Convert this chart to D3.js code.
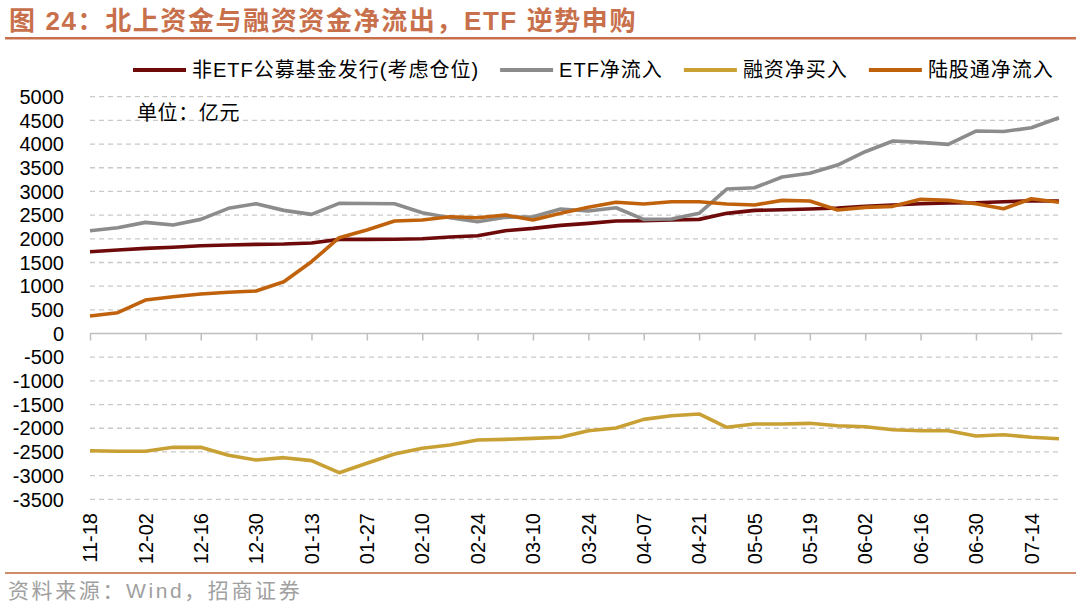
<!DOCTYPE html>
<html>
<head>
<meta charset="utf-8">
<script src="https://cdn.jsdelivr.net/npm/d3@7"></script>
<style>
  body { margin: 0; background: #fff; }
  svg { display: block; }
  text { font-family: Arial, "Liberation Sans", "Noto Sans CJK SC", sans-serif; }
</style>
</head>
<body>
<svg id="chart" width="1080" height="611"></svg>
<script>
// weekly dates
const dates = ['11-18', '11-25', '12-02', '12-09', '12-16', '12-23', '12-30', '01-06', '01-13', '01-20',
  '01-27', '02-03', '02-10', '02-17', '02-24', '03-03', '03-10', '03-17', '03-24', '03-31',
  '04-07', '04-14', '04-21', '04-28', '05-05', '05-12', '05-19', '05-26', '06-02', '06-09',
  '06-16', '06-23', '06-30', '07-07', '07-14', '07-21']

// 非ETF公募基金发行(考虑仓位)
const fundIssue = [1727, 1763, 1798, 1820, 1854, 1868, 1883, 1890, 1910, 1988,
  1988, 1990, 2002, 2037, 2065, 2171, 2220, 2284, 2326, 2375,
  2382, 2396, 2410, 2537, 2600, 2614, 2628, 2649, 2685, 2713,
  2740, 2755, 2762, 2783, 2804, 2797]

// ETF净流入
const etfFlow = [2170, 2233, 2347, 2290, 2410, 2643, 2740, 2600, 2515, 2748,
  2745, 2740, 2550, 2445, 2360, 2453, 2467, 2628, 2586, 2656,
  2410, 2417, 2537, 3050, 3078, 3304, 3382, 3557, 3838, 4064,
  4036, 3994, 4275, 4265, 4345, 4556]

// 融资净买入
const marginBuy = [-2474, -2487, -2487, -2403, -2403, -2571, -2670, -2621, -2684, -2938,
  -2740, -2544, -2424, -2354, -2248, -2234, -2213, -2191, -2052, -1995,
  -1812, -1735, -1699, -1980, -1910, -1910, -1896, -1946, -1967, -2030,
  -2052, -2052, -2164, -2136, -2191, -2220]

// 陆股通净流入
const northFlow = [369, 440, 707, 777, 834, 870, 897, 1094, 1516, 2023,
  2185, 2375, 2396, 2467, 2445, 2502, 2396, 2537, 2664, 2770,
  2734, 2783, 2783, 2734, 2713, 2811, 2797, 2607, 2664, 2685,
  2833, 2811, 2740, 2635, 2846, 2770]

const yTicks = d3.range(-3500, 5001, 500)

const seriesList = [
  { name: '非ETF公募基金发行(考虑仓位)', values: fundIssue, color: '#6e0a0a' },
  { name: 'ETF净流入', values: etfFlow, color: '#8c8c8c' },
  { name: '融资净买入', values: marginBuy, color: '#c8a034' },
  { name: '陆股通净流入', values: northFlow, color: '#c0620c' }
]

const svg = d3.select('#chart')

// title and rules
svg.append('text')
  .attr('x', 9).attr('y', 30)
  .attr('font-size', 26).attr('font-weight', 'bold')
  .attr('letter-spacing', 1.6)
  .attr('fill', '#c8704c')
  .text('图 24：北上资金与融资资金净流出，ETF 逆势申购')
svg.append('rect').attr('x', 5).attr('y', 37).attr('width', 1071).attr('height', 2.5).attr('fill', '#c8704c')
svg.append('rect').attr('x', 5).attr('y', 572).attr('width', 1071).attr('height', 2).attr('fill', '#d08a6c')
svg.append('text')
  .attr('x', 8).attr('y', 598)
  .attr('font-size', 21).attr('letter-spacing', 2.6)
  .attr('fill', '#a0a0a0')
  .text('资料来源：Wind，招商证券')

// scales
const x = d3.scalePoint().domain(dates).range([90, 1059])
const y = d3.scaleLinear().domain([-3500, 5000]).range([499.3, 96.7])

// dashed grid
svg.append('g')
  .selectAll('line')
  .data(yTicks.filter(d => d !== 0))
  .join('line')
  .attr('x1', 90).attr('x2', 1062)
  .attr('y1', d => y(d)).attr('y2', d => y(d))
  .attr('stroke', '#c9c9c9').attr('stroke-width', 1.3)
  .attr('stroke-dasharray', '5,4')

// y labels
svg.append('g')
  .selectAll('text')
  .data(yTicks)
  .join('text')
  .attr('x', 64).attr('y', d => y(d))
  .attr('dy', '0.36em')
  .attr('text-anchor', 'end')
  .attr('font-size', 20)
  .attr('fill', '#000')
  .text(d => d)

// x axis on zero line, tick every two weeks
const tickDates = dates.filter((d, i) => i % 2 === 0)
const xAxis = d3.axisBottom(x).tickValues(tickDates).tickSize(7).tickFormat('')
const axisG = svg.append('g')
  .attr('transform', `translate(0,${y(0)})`)
  .call(xAxis)
axisG.select('.domain').attr('d', 'M90,0H1062').attr('stroke', '#bfbfbf').attr('stroke-width', 1.5)
axisG.selectAll('.tick line').attr('stroke', '#bfbfbf').attr('stroke-width', 1.5)

svg.append('g')
  .selectAll('text')
  .data(tickDates)
  .join('text')
  .attr('transform', d => `translate(${x(d)},513) rotate(-90)`)
  .attr('dy', '0.36em')
  .attr('text-anchor', 'end')
  .attr('font-size', 20)
  .attr('fill', '#000')
  .text(d => d)

// lines
const line = d3.line()
  .x((d, i) => x(dates[i]))
  .y(d => y(d))

svg.append('g')
  .selectAll('path')
  .data(seriesList)
  .join('path')
  .attr('d', s => line(s.values))
  .attr('fill', 'none')
  .attr('stroke', s => s.color)
  .attr('stroke-width', 3.6)
  .attr('stroke-linejoin', 'round')

// unit label
svg.append('text')
  .attr('x', 137).attr('y', 120)
  .attr('font-size', 20).attr('letter-spacing', 0.6)
  .attr('fill', '#000')
  .text('单位：亿元')

// legend
const legend = svg.append('g')
let lx = 133
seriesList.forEach(s => {
  legend.append('line')
    .attr('x1', lx).attr('x2', lx + 53)
    .attr('y1', 70).attr('y2', 70)
    .attr('stroke', s.color).attr('stroke-width', 4)
  const t = legend.append('text')
    .attr('x', lx + 59).attr('y', 77)
    .attr('font-size', 20).attr('letter-spacing', 1)
    .attr('fill', '#000')
    .text(s.name)
  lx = lx + 59 + t.node().getComputedTextLength() + 21
})
</script>
</body>
</html>
